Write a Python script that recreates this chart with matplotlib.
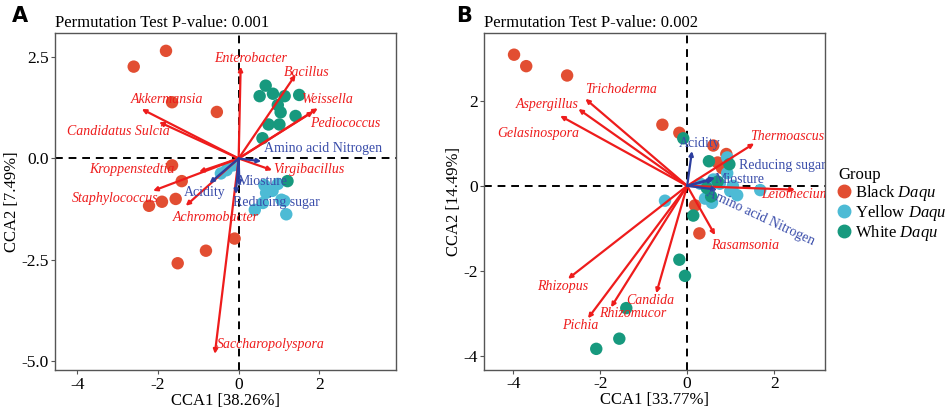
import matplotlib.pyplot as plt
import numpy as np

plt.rcParams["font.family"] = ["Liberation Serif", "DejaVu Serif"]
plt.rcParams["mathtext.fontset"] = "custom"
plt.rcParams["mathtext.it"] = "Liberation Serif:italic"
plt.rcParams["mathtext.rm"] = "Liberation Serif"
plt.rcParams["axes.unicode_minus"] = False

BLACK_C = "#E24E32"
YELLOW_C = "#4DBBD5"
WHITE_C = "#17997E"
SPEC_C = "#EE1C1C"
ENV_C = "#2C3E9E"
ENV_TXT = "#3A4DAA"

# ---- panel A: bacteria ----
a_black_x = [-2.60, -1.80, -1.65, -0.54, -1.65, -1.41, -2.22, -1.90, -1.56, -0.10, -0.81, -1.51]
a_black_y = [2.27, 2.66, 1.39, 1.15, -0.17, -0.56, -1.17, -1.07, -1.00, -1.98, -2.28, -2.59]
a_yellow_x = [-0.14, -0.30, -0.44, 0.64, 0.84, 0.97, 0.68, 1.06, 1.13, 0.60, 0.40, 1.18]
a_yellow_y = [-0.17, -0.29, -0.37, -0.66, -0.80, -0.63, -0.85, -1.02, -1.05, -1.10, -1.27, -1.38]
a_white_x = [0.67, 0.52, 1.14, 1.50, 0.97, 1.04, 1.41, 0.74, 1.01, 0.59, 1.21, 0.85]
a_white_y = [1.80, 1.54, 1.54, 1.57, 1.32, 1.14, 1.05, 0.84, 0.84, 0.50, -0.56, 1.60]

a_species = ["Enterobacter", "Bacillus", "Weissella", "Pediococcus", "Akkermansia",
             "Candidatus Sulcia", "Kroppenstedtia", "Staphylococcus", "Achromobacter",
             "Virgibacillus", "Saccharopolyspora"]
a_spec_x = [0.05, 1.41, 1.96, 1.85, -2.40, -1.97, -0.98, -2.12, -1.31, 0.83, -0.59]
a_spec_y = [2.27, 2.07, 1.24, 1.16, 1.22, 0.90, -0.33, -0.80, -1.17, -0.29, -4.83]
a_spec_lx = [0.30, 1.68, 2.20, 2.63, -1.78, -2.98, -2.65, -3.06, -0.57, 1.73, 0.80]
a_spec_ly = [2.46, 2.12, 1.46, 0.87, 1.46, 0.66, -0.27, -1.00, -1.46, -0.27, -4.61]

a_env = ["Amino acid Nitrogen", "Acidity", "Miosture", "Reducing sugar"]
a_env_x = [0.56, -0.72, 0.02, -0.07]
a_env_y = [-0.07, -0.61, -0.68, -0.88]
a_env_lx = [2.08, -0.84, 0.60, 0.93]
a_env_ly = [0.24, -0.85, -0.56, -1.10]

# ---- panel B: fungi ----
b_black_x = [-3.98, -3.70, -2.76, -0.57, -0.18, 0.60, 0.90, 0.80, 0.18, 0.28, 0.70]
b_black_y = [3.09, 2.82, 2.60, 1.44, 1.25, 0.95, 0.75, 0.42, -0.46, -1.12, 0.55]
b_yellow_x = [0.92, 0.92, 1.68, 1.15, 0.99, -0.51, 0.41, 0.57, 0.75, 0.30, 1.05, 0.60]
b_yellow_y = [0.67, 0.30, -0.10, -0.22, -0.12, -0.35, -0.30, -0.40, 0.05, 0.05, 0.00, 0.15]
b_white_x = [-0.09, 0.50, 0.97, 0.14, -0.18, -0.05, -1.40, -1.56, -2.09, 0.45, 0.70, 0.55]
b_white_y = [1.12, 0.58, 0.51, -0.70, -1.74, -2.12, -2.88, -3.60, -3.84, -0.05, 0.10, -0.25]

b_species = ["Trichoderma", "Aspergillus", "Gelasinospora", "Thermoascus", "Leiothecium",
             "Rasamsonia", "Rhizopus", "Pichia", "Rhizomucor", "Candida"]
b_spec_x = [-2.34, -2.50, -2.92, 1.54, 2.48, 0.64, -2.74, -2.28, -1.75, -0.71]
b_spec_y = [2.05, 1.81, 1.65, 1.00, -0.09, -1.16, -2.19, -3.12, -2.86, -2.53]
b_spec_lx = [-1.52, -3.22, -3.43, 2.30, 2.50, 1.33, -2.87, -2.46, -1.26, -0.85]
b_spec_ly = [2.26, 1.91, 1.23, 1.16, -0.20, -1.40, -2.37, -3.28, -3.00, -2.70]

b_env = ["Acidity", "Reducing sugar", "Miosture", "Amino acid Nitrogen"]
b_env_x = [0.11, 0.64, 0.60, 0.69]
b_env_y = [0.82, 0.19, 0.15, -0.09]
b_env_lx = [0.30, 2.18, 1.20, 1.68]
b_env_ly = [1.00, 0.47, 0.14, -0.74]
b_env_rot = [0, 0, 0, -25]


def arrow(ax, x, y, color, lw):
    ax.annotate("", xy=(x, y), xytext=(0, 0),
                arrowprops=dict(arrowstyle="-|>", color=color, lw=lw,
                                mutation_scale=6, shrinkA=0, shrinkB=0),
                zorder=4)


def panel(ax, pts, spec, env, xlim, ylim, xticks, yticks, xlabel, ylabel, title, env_rot=None):
    ax.axhline(0, color="black", ls=(0, (4, 3)), lw=1.4, zorder=1)
    ax.axvline(0, color="black", ls=(0, (4, 3)), lw=1.4, zorder=1)
    for (xs, ys), c in zip(pts, [BLACK_C, YELLOW_C, WHITE_C]):
        ax.scatter(xs, ys, s=80, color=c, edgecolors="none", zorder=2)
    names, sx, sy, lx, ly = spec
    for n, x, y, tx, ty in zip(names, sx, sy, lx, ly):
        arrow(ax, x, y, SPEC_C, 1.6)
        ax.text(tx, ty, n, color=SPEC_C, style="italic", fontsize=10,
                ha="center", va="center", zorder=5, clip_on=True)
    names, ex, ey, elx, ely = env
    rots = env_rot if env_rot else [0] * len(names)
    for n, x, y, tx, ty, r in zip(names, ex, ey, elx, ely, rots):
        arrow(ax, x, y, ENV_C, 1.6)
        ax.text(tx, ty, n, color=ENV_TXT, fontsize=10, rotation=r,
                ha="center", va="center", zorder=5, clip_on=True,
                rotation_mode="anchor")
    ax.set_xlim(xlim)
    ax.set_ylim(ylim)
    ax.set_xticks(xticks)
    ax.set_yticks(yticks)
    ax.set_xlabel(xlabel, fontsize=12, labelpad=0)
    ax.set_ylabel(ylabel, fontsize=12, labelpad=1)
    ax.set_title(title, fontsize=12, loc="left", pad=4)
    ax.tick_params(labelsize=12.5, color="#555555", length=3, pad=1.5)
    for sp in ax.spines.values():
        sp.set_color("#555555")
        sp.set_linewidth(1.0)


fig = plt.figure(figsize=(9.5, 4.08), dpi=100)
ax1 = fig.add_axes([0.0579, 0.092, 0.359, 0.827])
ax2 = fig.add_axes([0.5095, 0.094, 0.359, 0.825])

panel(ax1,
      [(a_black_x, a_black_y), (a_yellow_x, a_yellow_y), (a_white_x, a_white_y)],
      (a_species, a_spec_x, a_spec_y, a_spec_lx, a_spec_ly),
      (a_env, a_env_x, a_env_y, a_env_lx, a_env_ly),
      (-4.55, 3.9), (-5.24, 3.1), [-4, -2, 0, 2], [2.5, 0.0, -2.5, -5.0],
      "CCA1 [38.26%]", "CCA2 [7.49%]", "Permutation Test P-value: 0.001")
ax1.set_yticklabels(["2.5", "0.0", "-2.5", "-5.0"])

panel(ax2,
      [(b_black_x, b_black_y), (b_yellow_x, b_yellow_y), (b_white_x, b_white_y)],
      (b_species, b_spec_x, b_spec_y, b_spec_lx, b_spec_ly),
      (b_env, b_env_x, b_env_y, b_env_lx, b_env_ly),
      (-4.67, 3.17), (-4.33, 3.6), [-4, -2, 0, 2], [2, 0, -2, -4],
      "CCA1 [33.77%]", "CCA2 [14.49%]", "Permutation Test P-value: 0.002",
      env_rot=b_env_rot)

fig.text(0.012, 0.945, "A", fontsize=15, fontweight="bold", family="DejaVu Sans")
fig.text(0.48, 0.945, "B", fontsize=15, fontweight="bold", family="DejaVu Sans")

handles = [plt.Line2D([], [], marker="o", ls="", color=c, markersize=9)
           for c in [BLACK_C, YELLOW_C, WHITE_C]]
labels = [r"Black $\mathit{Daqu}$", r"Yellow $\mathit{Daqu}$", r"White $\mathit{Daqu}$"]
fig.legend(handles, labels, title="Group", loc="upper left",
           bbox_to_anchor=(0.882, 0.59), frameon=False, fontsize=12,
           title_fontsize=12, handlelength=0.7, handletextpad=0.35,
           labelspacing=0.0, borderpad=0, borderaxespad=0, alignment="left")

fig.savefig("out.png", dpi=100)
